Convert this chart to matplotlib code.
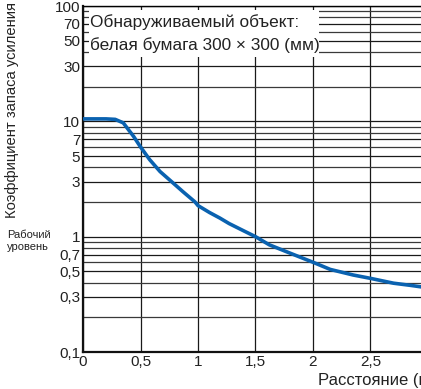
import numpy as np
import matplotlib.pyplot as plt
from matplotlib.ticker import FixedLocator, LogLocator, NullFormatter

plt.rcParams['font.family'] = ['Liberation Sans', 'DejaVu Sans']

# Кривая коэффициента запаса усиления
distance = [0.0, 0.1, 0.2, 0.28, 0.35, 0.44, 0.5, 0.58, 0.67, 0.77, 0.87,
            0.974, 1.0, 1.1, 1.19, 1.27, 1.4, 1.5, 1.62, 1.8, 2.0, 2.15,
            2.35, 2.5, 2.7, 2.85, 3.0]
gain = [10.5, 10.5, 10.5, 10.4, 9.7, 7.4, 6.0, 4.65, 3.67, 3.0, 2.45,
        2.0, 1.86, 1.62, 1.45, 1.3, 1.12, 1.0, 0.85, 0.72, 0.6, 0.52,
        0.465, 0.435, 0.395, 0.378, 0.36]

xticks = [0, 0.5, 1, 1.5, 2, 2.5]
xtick_labels = ['0', '0,5', '1', '1,5', '2', '2,5']
yticks = [0.1, 0.3, 0.5, 0.7, 1, 3, 5, 7, 10, 30, 50, 70, 100]
ytick_labels = ['0,1', '0,3', '0,5', '0,7', '1', '3', '5', '7', '10', '30', '50', '70', '100']

fig = plt.figure(figsize=(4.21, 3.89), dpi=100)
ax = fig.add_axes([83 / 421, 37 / 389, 345 / 421, 346 / 389])

ax.set_yscale('log')
ax.set_xlim(0, 3)
ax.set_ylim(0.1, 100)

# сетка
ax.xaxis.set_major_locator(FixedLocator(xticks))
ax.set_xticklabels(xtick_labels)
ax.yaxis.set_major_locator(FixedLocator(yticks))
ax.set_yticklabels(ytick_labels)
ax.yaxis.set_minor_locator(LogLocator(base=10, subs=np.arange(1, 10)))
ax.yaxis.set_minor_formatter(NullFormatter())
ax.grid(True, which='minor', axis='y', color='#3a3a3a', lw=0.9)
ax.grid(True, which='major', axis='both', color='#1a1a1a', lw=0.9)
ax.axvline(3.0, color='#1a1a1a', lw=0.9)
ax.tick_params(axis='both', which='both', length=0, labelsize=11, colors='#222222', pad=2)

for s in ['left', 'bottom']:
    ax.spines[s].set_linewidth(1.6)
    ax.spines[s].set_color('#111111')
ax.spines['top'].set_linewidth(1.0)
ax.spines['right'].set_visible(False)

ax.plot(distance, gain, color='#0a62b0', lw=2.6, solid_capstyle='round', zorder=3)

# подпись объекта в белой рамке
fig.patches.append(plt.Rectangle((89 / 421, 1 - 57 / 389), 230 / 421, 47 / 389,
                                 transform=fig.transFigure, facecolor='white',
                                 edgecolor='none', zorder=5))
fig.text(90 / 421, 1 - 22 / 389, 'Обнаруживаемый объект:', fontsize=12.4,
         va='center', ha='left', color='#222222', zorder=6)
fig.text(90 / 421, 1 - 45 / 389, 'белая бумага 300 × 300 (мм)', fontsize=12.4,
         va='center', ha='left', color='#222222', zorder=6)

fig.text(12 / 421, 1 - 110 / 389, 'Коэффициент запаса усиления', rotation=90,
         fontsize=10.6, va='center', ha='center', color='#222222')
fig.text(7 / 421, 1 - 241 / 389, 'Рабочий\nуровень', fontsize=8,
         va='center', ha='left', color='#222222', linespacing=1.35)
# как и в оригинале, подпись оси обрезана правым краем
fig.text(318 / 421, 1 - 381 / 389, 'Расстояние (м)', fontsize=12,
         va='center', ha='left', color='#222222')

fig.savefig('out.png', dpi=100)
